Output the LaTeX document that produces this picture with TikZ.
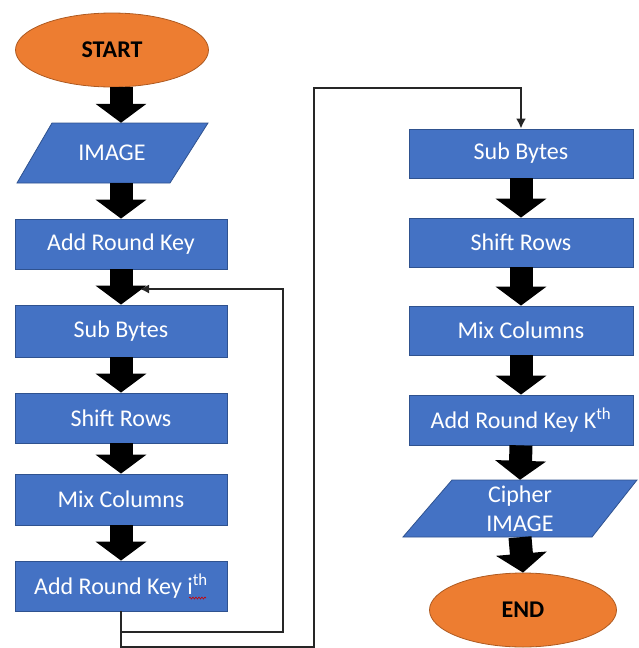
\documentclass[tikz,border=0pt]{standalone}
\usepackage{fontspec}
\setmainfont{Carlito}
\usetikzlibrary{arrows.meta,shapes.geometric,decorations.pathmorphing}
\definecolor{boxblue}{HTML}{4472C4}
\definecolor{boxedge}{HTML}{2F528F}
\definecolor{ovalor}{HTML}{ED7D31}
\definecolor{ovaledge}{HTML}{AE5A21}
\tikzset{
  procbox/.style={rectangle, fill=boxblue, draw=boxedge, line width=0.8pt, inner sep=0pt,
    text=white, font=\fontsize{24}{28}\selectfont},
  termnode/.style={ellipse, fill=ovalor, draw=ovaledge, line width=0.8pt, inner sep=0pt,
    text=black, font=\fontsize{24}{28}\selectfont\bfseries},
  paratext/.style={rectangle, inner sep=0pt, text=white, align=center,
    font=\fontsize{24}{29}\selectfont},
  parafill/.style={fill=boxblue, draw=boxedge, line width=0.8pt},
  blockarrow/.style={line width=23pt, -{Triangle[width=50pt,length=19pt]}, black},
  thinloop/.style={line width=1.5pt, draw=black!85, -{Latex[length=9pt,width=9pt]}},
  bigloop/.style={line width=2.6pt, draw=black!85, -{Latex[length=10pt,width=10pt]}},
}
\begin{document}
\begin{tikzpicture}[x=1pt,y=-1pt]
\useasboundingbox (0,0) rectangle (638,648);
% parallelogram backgrounds
\filldraw[parafill] (52,123) -- (208,123) -- (170,183) -- (17,183) -- cycle;
\filldraw[parafill] (452,480) -- (637,480) -- (592,537) -- (403,537) -- cycle;

% left column
\node[termnode, minimum width=193pt, minimum height=74pt] (start) at (112,50) {START};
\node[paratext, minimum height=60pt] (image) at (112,153) {IMAGE};
\node[procbox, minimum width=212pt, minimum height=50pt] (ark) at (121,244) {Add Round Key};
\node[procbox, minimum width=212pt, minimum height=52pt] (sb) at (121,331) {Sub Bytes};
\node[procbox, minimum width=212pt, minimum height=50pt] (sr) at (121,418) {Shift Rows};
\node[procbox, minimum width=212pt, minimum height=51pt] (mc) at (121,499.5) {Mix Columns};
\node[procbox, minimum width=212pt, minimum height=50pt] (arki) at (121,586) {Add Round Key i\textsuperscript{th}};

% right column
\node[procbox, minimum width=224pt, minimum height=49pt] (sb2) at (521,153.5) {Sub Bytes};
\node[procbox, minimum width=224pt, minimum height=49pt] (sr2) at (521,242.5) {Shift Rows};
\node[procbox, minimum width=224pt, minimum height=49pt] (mc2) at (521,330.5) {Mix Columns};
\node[procbox, minimum width=224pt, minimum height=50pt] (arkk) at (521,420) {Add Round Key K\textsuperscript{th}};
\node[paratext, minimum height=57pt] (cipher) at (520,508.5) {Cipher\\IMAGE};
\node[termnode, minimum width=187pt, minimum height=74pt] (end) at (523,610) {END};

% block arrows
\draw[blockarrow] (start.south -| ark.north) -- (image.north -| ark.north);
\draw[blockarrow] (image.south -| ark.north) -- (ark.north);
\draw[blockarrow] (ark.south) -- (sb.north);
\draw[blockarrow] (sb.south) -- (sr.north);
\draw[blockarrow] (sr.south) -- (mc.north);
\draw[blockarrow] (mc.south) -- (arki.north);
\draw[blockarrow] (sb2.south) -- (sr2.north);
\draw[blockarrow] (sr2.south) -- (mc2.north);
\draw[blockarrow] (mc2.south) -- (arkk.north);
\draw[blockarrow] (arkk.south) -- (cipher.north);
\draw[blockarrow] (cipher.south) -- (end.north);

% loops
\coordinate (lb) at (283,632);
\coordinate (lt) at (283,289);
\coordinate (ltip) at (140,289);
\draw[thinloop] (arki.south) |- (lb) -- (lt) -- (ltip);

\coordinate (bb) at (121,647);
\coordinate (bt) at (314,88);
\draw[bigloop] (arki.south) -- (bb) -| (bt) -| (sb2.north);

% spell-check squiggle
\draw[red!80!black, line width=0.6pt, decorate,
  decoration={snake, amplitude=1pt, segment length=3pt}] (189,598) -- (206,598);
\end{tikzpicture}
\end{document}
